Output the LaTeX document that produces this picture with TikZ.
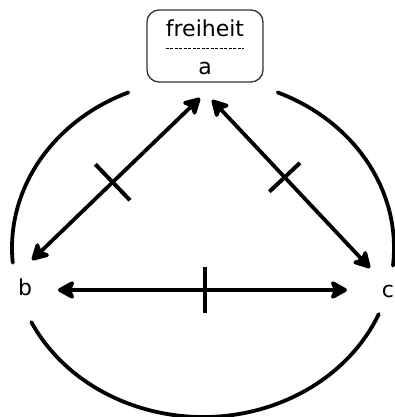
\documentclass[tikz,border=0pt]{standalone}
\usepackage{fontspec}
\setmainfont{DejaVu Sans}
\usetikzlibrary{arrows.meta, calc}

\begin{document}
\begin{tikzpicture}[x=1pt, y=-1pt, font=\fontsize{22}{26}\selectfont,
  lbl/.style={inner sep=0pt, anchor=base},
  ring/.style={line width=3.8pt, line cap=round},
  dbl/.style={line width=3.8pt,
    {Stealth[length=20pt, width=22pt, inset=5pt, round]}-{Stealth[length=20pt, width=22pt, inset=5pt, round]}},
  tick/.style={line width=4pt}]
  \useasboundingbox (0,0) rectangle (395,417);

  %--- top box ---
  \node[draw=black!80, line width=1.3pt, rounded corners=12pt,
        minimum width=116pt, minimum height=72pt] (box) at (205,46) {};
  \node[lbl] (freiheit) at (205,37) {freiheit};
  \node[lbl] (a) at (205,75) {a};
  \draw[line width=1pt, dash pattern=on 3pt off 1.5pt]
    ([yshift=-11pt]freiheit.south west) -- ([yshift=-11pt]freiheit.south east);

  %--- corner labels ---
  \node[lbl] (b) at (25,295) {b};
  \node[lbl] (c) at (388,297) {c};

  %--- arrow ends ---
  \coordinate (ab1) at (200,98);
  \coordinate (ab2) at (32,260);
  \coordinate (ac1) at (212,100);
  \coordinate (ac2) at (370,268);
  \coordinate (bc1) at (58,290);
  \coordinate (bc2) at (347,290);

  %--- double arrows ---
  \draw[dbl] (ab1) -- (ab2) coordinate[pos=0.52] (mab);
  \draw[dbl] (ac1) -- (ac2) coordinate[pos=0.46] (mac);
  \draw[dbl, line width=4.8pt] (bc1) -- (bc2) coordinate[pos=0.51] (mbc);

  %--- ticks across the arrows ---
  \draw[tick] ($(mab)!25pt!90:(ab1)$) -- ($(mab)!25pt!-90:(ab1)$);
  \draw[tick] ($(mac)!21pt!90:(ac1)$) -- ($(mac)!21pt!-90:(ac1)$);
  \draw[tick] ($(mbc)!23pt!90:(bc1)$) -- ($(mbc)!23pt!-90:(bc1)$);

  %--- outer ring in three pieces ---
  \coordinate (mid) at (203,248);
  \draw[ring] (mid) ++(113:191pt and 169pt)
    arc[start angle=113, end angle=185, x radius=191pt, y radius=169pt];
  \draw[ring] (mid) ++(67:191pt and 169pt)
    arc[start angle=67, end angle=-6, x radius=191pt, y radius=169pt];
  \draw[ring] (mid) ++(206:191pt and 169pt)
    arc[start angle=206, end angle=337, x radius=191pt, y radius=169pt];
\end{tikzpicture}
\end{document}
